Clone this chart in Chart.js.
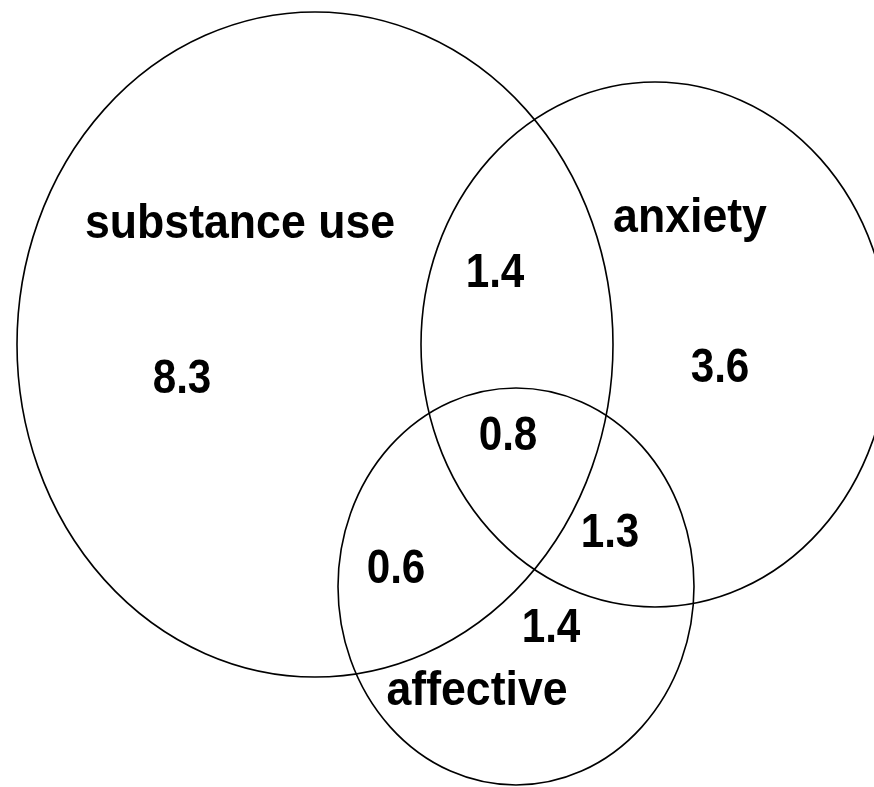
<!DOCTYPE html>
<html>
<head>
<meta charset="utf-8">
<script src="https://cdn.jsdelivr.net/npm/chart.js@4/dist/chart.umd.min.js"></script>
<style>
  html, body { margin: 0; padding: 0; background: #fff; }
  canvas { display: block; }
</style>
</head>
<body>
<canvas id="venn" width="874" height="787"></canvas>
<script>
// sets (ellipses), in plot units
const setNames = ['substance use', 'anxiety', 'affective'];
const setCenterX = [315, 655, 516];
const setCenterY = [344.5, 344.5, 586.5];
const setRadiusX = [298, 234, 178];
const setRadiusY = [332.5, 262.5, 198.5];
const setLabelX = [240, 690, 477];
const setLabelY = [238, 232, 705];

// region values (percent) and where they sit
const regionValues = [8.3, 3.6, 1.4, 0.8, 1.3, 0.6, 1.4];
const regionX = [182, 720, 495, 508, 610, 396, 551];
const regionY = [393, 382, 287, 450, 547, 583, 642];

const FONT = 'bold 48px "Liberation Sans", Arial, sans-serif';

function drawText(ctx, text, x, y, squeeze) {
  ctx.save();
  ctx.translate(x, y);
  ctx.scale(squeeze, 1);
  ctx.fillText(text, 0, 0);
  ctx.restore();
}

const vennPlugin = {
  id: 'venn',
  afterDatasetsDraw(chart) {
    const ctx = chart.ctx;
    const xs = chart.scales.x, ys = chart.scales.y;
    ctx.save();
    ctx.strokeStyle = '#000';
    ctx.lineWidth = 1.6;
    chart.data.datasets[0].data.forEach((p, i) => {
      const cx = xs.getPixelForValue(p.x);
      const cy = ys.getPixelForValue(p.y);
      const rx = Math.abs(xs.getPixelForValue(p.x + setRadiusX[i]) - cx);
      const ry = Math.abs(ys.getPixelForValue(p.y + setRadiusY[i]) - cy);
      ctx.beginPath();
      ctx.ellipse(cx, cy, rx, ry, 0, 0, Math.PI * 2);
      ctx.stroke();
    });

    ctx.fillStyle = '#000';
    ctx.font = FONT;
    ctx.textAlign = 'center';
    ctx.textBaseline = 'alphabetic';
    setNames.forEach((name, i) => {
      drawText(ctx, name, xs.getPixelForValue(setLabelX[i]), ys.getPixelForValue(setLabelY[i]), 0.93);
    });
    chart.data.datasets[1].data.forEach((p) => {
      drawText(ctx, p.v.toFixed(1), xs.getPixelForValue(p.x), ys.getPixelForValue(p.y), 0.88);
    });
    ctx.restore();
  }
};

new Chart(document.getElementById('venn'), {
  type: 'scatter',
  data: {
    datasets: [
      {
        label: 'sets',
        data: setNames.map((n, i) => ({ x: setCenterX[i], y: setCenterY[i] })),
        pointRadius: 0
      },
      {
        label: 'regions',
        data: regionValues.map((v, i) => ({ x: regionX[i], y: regionY[i], v: v })),
        pointRadius: 0
      }
    ]
  },
  options: {
    responsive: false,
    animation: false,
    layout: { padding: 0 },
    plugins: {
      legend: { display: false },
      tooltip: { enabled: false }
    },
    scales: {
      x: { type: 'linear', min: 0, max: 874, display: false },
      y: { type: 'linear', min: 0, max: 787, reverse: true, display: false }
    }
  },
  plugins: [vennPlugin]
});
</script>
</body>
</html>
